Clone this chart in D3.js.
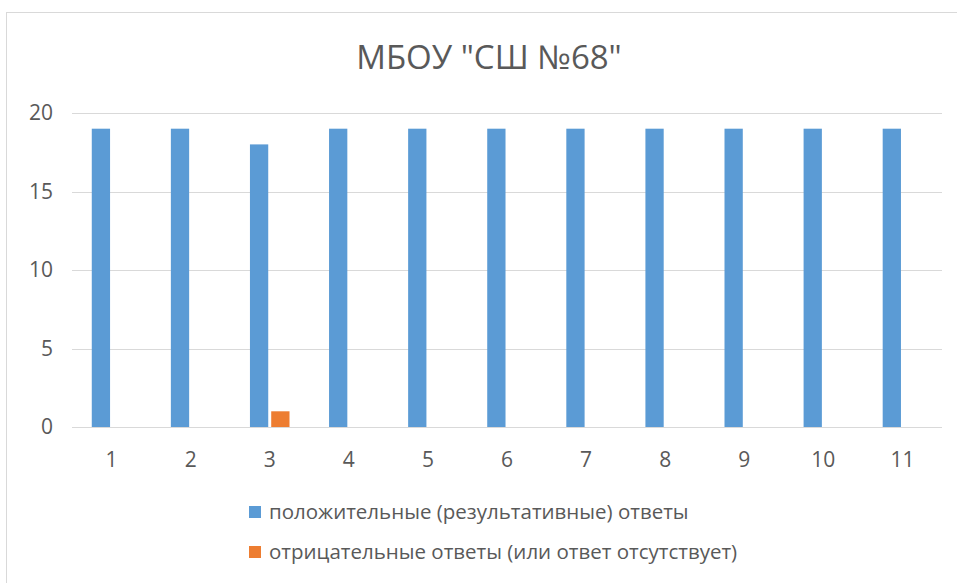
<!DOCTYPE html>
<html lang="ru">
<head>
  <meta charset="UTF-8">
  <title>МБОУ "СШ №68"</title>
  <style>
      body { margin: 0; background: #fff; }
      text { font-family: "Open Sans", Lato, sans-serif; fill: #595959; }
      .grid line { stroke: #d9d9d9; stroke-width: 1px; shape-rendering: crispEdges; }
      .grid path { stroke-width: 0; }
      .axis path, .axis line { display: none; }
  </style>
</head>
<body>
<div id="chart"></div>
<script src="https://d3js.org/d3.v7.min.js"></script>
<script>
  const categories = ["1", "2", "3", "4", "5", "6", "7", "8", "9", "10", "11"];
  const positive = [19, 19, 18, 19, 19, 19, 19, 19, 19, 19, 19];
  const negative = [0, 0, 1, 0, 0, 0, 0, 0, 0, 0, 0];
  const seriesNames = [
    "положительные (результативные) ответы",
    "отрицательные ответы (или ответ отсутствует)"
  ];
  const seriesColors = ["#5B9BD5", "#ED7D31"];
  const yTicks = [0, 5, 10, 15, 20];

  const W = 957, H = 583;
  const margin = {top: 113, right: 15, bottom: 156, left: 72};
  const width = W - margin.left - margin.right,
    height = H - margin.top - margin.bottom;

  const root = d3.select("#chart").append("svg")
    .attr("width", W)
    .attr("height", H);

  // chart area frame
  root.append("rect")
    .attr("x", 6.5).attr("y", 12.5)
    .attr("width", W).attr("height", H)
    .attr("fill", "#fff")
    .attr("stroke", "#d9d9d9");

  root.append("text")
    .attr("x", 489)
    .attr("y", 69)
    .attr("text-anchor", "middle")
    .style("font-size", "33px")
    .text('МБОУ "СШ №68"');

  const svg = root.append("g")
    .attr("transform", `translate(${margin.left},${margin.top})`);

  const x0 = d3.scaleBand()
    .domain(categories)
    .range([0, width])
    .paddingInner(0.5)
    .paddingOuter(0.25);

  const x1 = d3.scaleBand()
    .domain([0, 1])
    .range([0, x0.bandwidth()])
    .paddingInner(0.14);

  const y = d3.scaleLinear()
    .domain([0, 20])
    .range([height, 0]);

  svg.append("g")
    .attr("class", "grid")
    .call(d3.axisLeft(y).tickValues(yTicks).tickSize(-width).tickFormat(""));

  svg.append("g")
    .attr("class", "axis")
    .call(d3.axisLeft(y).tickValues(yTicks).tickSize(0).tickPadding(19))
    .selectAll("text")
    .style("font-size", "21px");

  svg.append("g")
    .attr("class", "axis")
    .attr("transform", `translate(0,${height})`)
    .call(d3.axisBottom(x0).tickSize(0).tickPadding(25))
    .selectAll("text")
    .style("font-size", "21px");

  const series = [positive, negative];
  const groups = svg.selectAll(".cat")
    .data(categories)
    .enter().append("g")
    .attr("transform", d => `translate(${x0(d)},0)`);

  groups.selectAll("rect")
    .data((d, i) => series.map((s, k) => ({k: k, v: s[i]})))
    .enter().append("rect")
    .attr("x", d => x1(d.k))
    .attr("width", x1.bandwidth())
    .attr("y", d => y(d.v))
    .attr("height", d => height - y(d.v))
    .attr("fill", d => seriesColors[d.k]);

  const legend = root.selectAll(".legend")
    .data(seriesNames)
    .enter().append("g")
    .attr("transform", (d, i) => `translate(249,${512 + i * 40})`);

  legend.append("rect")
    .attr("x", 0).attr("y", -6)
    .attr("width", 12).attr("height", 12)
    .attr("fill", (d, i) => seriesColors[i]);

  legend.append("text")
    .attr("x", 20)
    .attr("y", 0)
    .attr("dy", "0.35em")
    .style("font-size", "20.5px")
    .text(d => d);
</script>
</body>
</html>
